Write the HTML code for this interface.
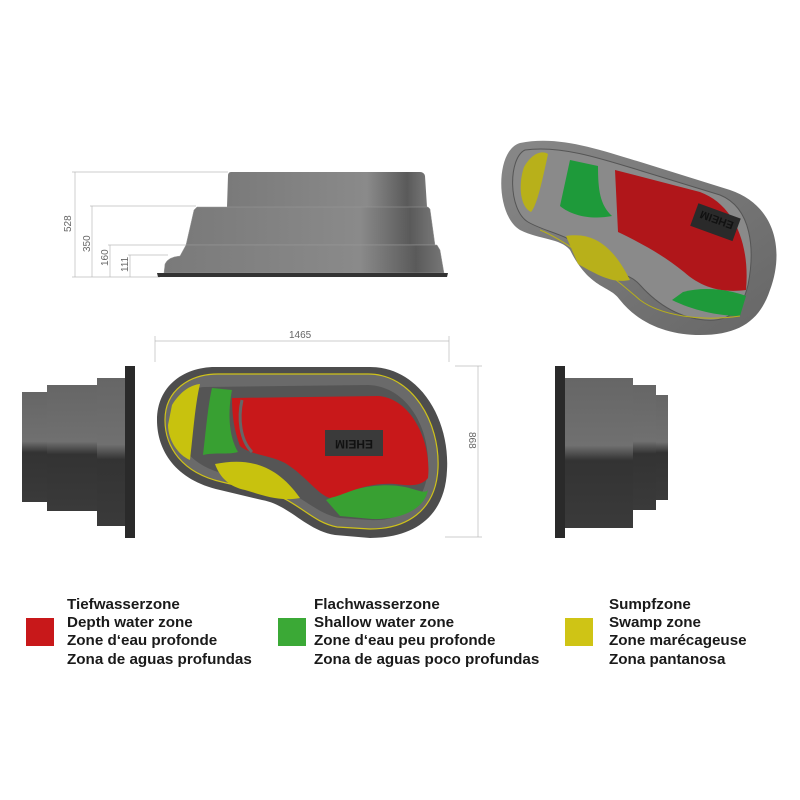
<!DOCTYPE html>
<html><head><meta charset="utf-8"><style>
body{margin:0;background:#fff;width:800px;height:800px;overflow:hidden}
svg{position:absolute;left:0;top:0}
.t{font-family:"Liberation Sans",sans-serif;font-weight:bold;font-size:15.2px;fill:#1a1a1a}
.d{font-family:"Liberation Sans",sans-serif;font-size:10px;fill:#666}
</style></head><body>
<svg width="800" height="800" viewBox="0 0 800 800">
<defs>
<linearGradient id="g1" x1="0" x2="1"><stop offset="0" stop-color="#7a7a7a"/><stop offset="0.7" stop-color="#8a8a8a"/><stop offset="0.9" stop-color="#5a5a5a"/><stop offset="1" stop-color="#777"/></linearGradient>
<linearGradient id="gv" x1="0" y1="0" x2="0" y2="1"><stop offset="0" stop-color="#666"/><stop offset="0.45" stop-color="#707070"/><stop offset="0.55" stop-color="#333"/><stop offset="1" stop-color="#3a3a3a"/></linearGradient>
<linearGradient id="g3" x1="0" y1="0" x2="1" y2="1"><stop offset="0" stop-color="#888"/><stop offset="1" stop-color="#666"/></linearGradient>
</defs>
<g stroke="#bbb" stroke-width="0.7" fill="none">
<line x1="72" y1="172" x2="228" y2="172"/><line x1="75" y1="172" x2="75" y2="277"/>
<line x1="90" y1="206" x2="196" y2="206"/><line x1="92" y1="206" x2="92" y2="277"/>
<line x1="108" y1="245" x2="186" y2="245"/><line x1="110" y1="245" x2="110" y2="277"/>
<line x1="128" y1="255" x2="168" y2="255"/><line x1="130" y1="255" x2="130" y2="277"/>
<line x1="72" y1="277" x2="160" y2="277"/>
</g>
<text class="d" transform="translate(71,232) rotate(-90)">528</text>
<text class="d" transform="translate(90,252) rotate(-90)">350</text>
<text class="d" transform="translate(108,266) rotate(-90)">160</text>
<text class="d" transform="translate(128,272) rotate(-90)">111</text>
<path d="M231,172 L420,172 Q424,172 425,176 L427,207 L227,207 L228,176 Q228,172 231,172 Z" fill="url(#g1)"/>
<path d="M197,207 L428,207 L430,209 L435,245 L186,245 L194,210 Z" fill="url(#g1)" stroke="#999" stroke-width="0.5"/>
<path d="M186,245 L437,245 L440,250 L444,273 L164,273 L165,264 Q168,257 180,256 Z" fill="url(#g1)" stroke="#999" stroke-width="0.5"/>
<path d="M157,273 L448,273 L447,277 L158,277 Z" fill="#333"/>
<g stroke="#bbb" stroke-width="0.7"><line x1="155" y1="341" x2="449" y2="341"/><line x1="155" y1="336" x2="155" y2="362"/><line x1="449" y1="336" x2="449" y2="362"/>
<line x1="455" y1="366" x2="482" y2="366"/><line x1="478" y1="366" x2="478" y2="537"/><line x1="445" y1="537" x2="482" y2="537"/></g>
<text class="d" x="289" y="338">1465</text>
<text class="d" transform="translate(469,432) rotate(90)">868</text>
<path d="M215,367 L370,367 C420,367 450,420 447,470 C445,520 410,538 370,538 L335,535 C305,530 290,505 262,500 L220,490 C175,480 157,450 157,420 C157,385 185,367 215,367 Z" fill="#4d4d4d"/>
<path d="M218,374 L368,374 C412,374 440,422 438,468 C436,512 405,529 370,529 L337,527 C310,522 295,497 264,492 L222,482 C182,473 165,447 165,420 C165,390 190,374 218,374 Z" fill="#6a6a6a" stroke="#cfc21a" stroke-width="1.2"/>
<path d="M205,387 L368,385 C405,386 430,425 428,468 C426,505 400,522 370,520 L340,518 C315,514 300,492 268,484 L225,474 C192,466 176,445 176,422 C176,400 190,387 205,387 Z" fill="#555"/>
<path d="M172,405 C180,392 190,385 200,384 C195,405 193,435 190,460 C178,455 168,440 168,425 Z" fill="#c8c20e"/>
<path d="M215,464 C245,458 275,462 300,498 C280,502 262,495 245,490 C230,487 220,478 215,464 Z" fill="#c8c20e"/>
<path d="M212,388 L232,390 C228,410 228,435 238,452 C228,455 215,452 203,455 C206,430 208,405 212,388 Z" fill="#38a032"/>
<path d="M326,500 C350,488 380,482 405,487 C418,490 425,494 428,490 C424,510 400,520 372,519 L340,516 Z" fill="#38a032"/>
<path d="M232,398 L378,396 C410,398 432,440 428,478 C420,488 405,485 395,484 C365,482 345,495 330,498 C318,495 305,475 285,463 C270,455 250,455 240,446 C234,430 232,415 232,398 Z" fill="#c8181a"/>
<path d="M242,400 C238,418 240,440 252,452" fill="none" stroke="#666" stroke-width="3"/>
<rect x="325" y="430" width="58" height="26" fill="#3a3a3a"/>
<text x="354" y="452" text-anchor="middle" font-family="Liberation Sans,sans-serif" font-weight="bold" font-size="12" fill="#111" transform="rotate(180 354 446)">EHEIM</text>
<rect x="22" y="392" width="25" height="110" fill="url(#gv)"/>
<rect x="47" y="385" width="50" height="126" fill="url(#gv)"/>
<rect x="97" y="378" width="28" height="148" fill="url(#gv)"/>
<rect x="125" y="366" width="10" height="172" fill="#2a2a2a"/>
<rect x="555" y="366" width="10" height="172" fill="#2a2a2a"/>
<rect x="565" y="378" width="68" height="150" fill="url(#gv)"/>
<rect x="633" y="385" width="23" height="125" fill="url(#gv)"/>
<rect x="656" y="395" width="12" height="105" fill="url(#gv)"/>
<path d="M520,143 C560,135 600,150 650,165 L730,190 C775,205 785,250 770,290 C760,320 740,335 700,335 C670,335 640,325 620,300 C610,285 590,290 570,250 C560,238 540,240 520,230 C495,215 495,150 520,143 Z" fill="url(#g3)"/>
<path d="M525,150 C560,145 600,158 645,172 L720,195 C752,208 755,250 748,285 C742,310 730,322 705,320 C680,318 658,305 640,285 C625,268 600,275 580,248 C570,235 545,232 528,222 C508,210 508,158 525,150 Z" fill="#8a8a8a" stroke="#555" stroke-width="1"/>
<path d="M615,170 L700,192 C735,205 750,245 746,290 C722,293 702,288 684,272 C664,256 645,245 618,232 Z" fill="#b0161a"/>
<path d="M570,160 L598,166 C598,190 600,205 612,216 C592,220 572,216 560,206 Z" fill="#1e9a3a"/>
<path d="M683,292 C705,286 730,290 746,296 L740,316 C718,316 692,310 672,300 Z" fill="#1e9a3a"/>
<path d="M524,167 C532,153 542,150 548,154 C542,182 537,205 531,212 C520,207 518,185 524,167 Z" fill="#b8b01a"/>
<path d="M566,236 C592,232 612,244 630,280 C612,284 596,274 578,264 Z" fill="#b8b01a"/>
<path d="M540,230 C560,238 600,265 640,300 C660,315 700,322 740,316" fill="none" stroke="#b8b01a" stroke-width="1"/>
<rect x="693" y="210" width="45" height="24" fill="#2a2a2a" transform="rotate(20 715 222)"/>
<text x="716" y="228" text-anchor="middle" font-family="Liberation Sans,sans-serif" font-weight="bold" font-size="11" fill="#111" transform="rotate(200 716 222)">EHEIM</text>
<rect x="26" y="618" width="28" height="28" fill="#c8181a"/>
<rect x="278" y="618" width="28" height="28" fill="#3ba936"/>
<rect x="565" y="618" width="28" height="28" fill="#cfc415"/>
<text class="t" x="67" y="609">Tiefwasserzone</text>
<text class="t" x="67" y="627">Depth water zone</text>
<text class="t" x="67" y="645">Zone d‘eau profonde</text>
<text class="t" x="67" y="664">Zona de aguas profundas</text>
<text class="t" x="314" y="609">Flachwasserzone</text>
<text class="t" x="314" y="627">Shallow water zone</text>
<text class="t" x="314" y="645">Zone d‘eau peu profonde</text>
<text class="t" x="314" y="664">Zona de aguas poco profundas</text>
<text class="t" x="609" y="609">Sumpfzone</text>
<text class="t" x="609" y="627">Swamp zone</text>
<text class="t" x="609" y="645">Zone marécageuse</text>
<text class="t" x="609" y="664">Zona pantanosa</text>
</svg>
</body></html>
